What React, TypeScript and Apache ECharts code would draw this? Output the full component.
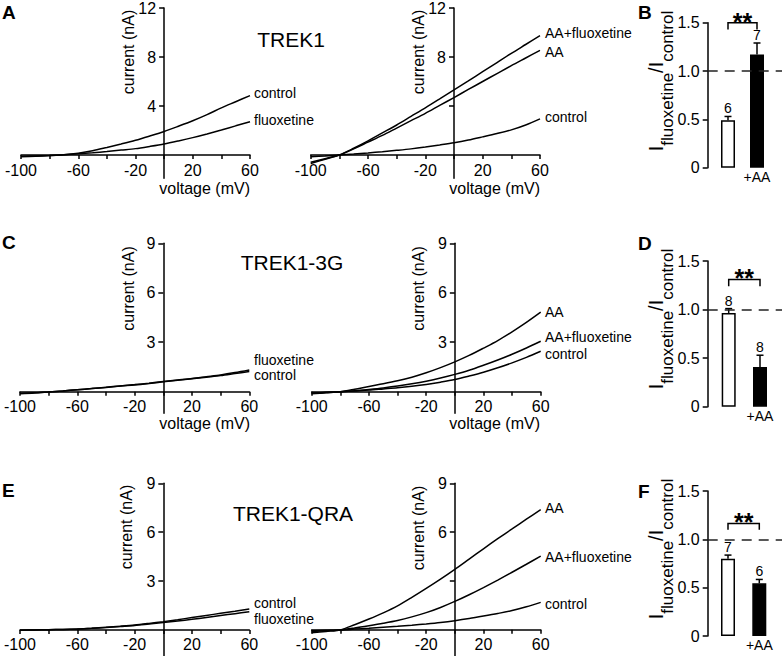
import React, { useEffect, useRef } from "react";
import * as echarts from "echarts";

const FONT = "Liberation Sans, Arial, Helvetica, sans-serif";

// ---------- data ----------
const voltages = [-100, -90, -80, -70, -60, -50, -40, -30, -20, -10, 0, 10, 20, 30, 40, 50, 60];

// TREK1 (A)
const aLeftControl = [-0.15, -0.1, -0.05, 0.02, 0.15, 0.35, 0.62, 0.9, 1.2, 1.55, 1.92, 2.35, 2.8, 3.3, 3.85, 4.35, 4.85];
const aLeftFluox = [-0.1, -0.08, -0.04, 0.02, 0.1, 0.18, 0.28, 0.4, 0.52, 0.7, 0.9, 1.15, 1.42, 1.72, 2.04, 2.38, 2.72];
const aRightAAFluox = [-0.7, -0.35, 0, 0.55, 1.15, 1.8, 2.45, 3.15, 3.85, 4.58, 5.32, 6.05, 6.8, 7.55, 8.3, 9.02, 9.74];
const aRightAA = [-0.6, -0.3, 0, 0.5, 1.05, 1.6, 2.2, 2.8, 3.4, 4.05, 4.69, 5.35, 6.0, 6.65, 7.3, 7.92, 8.54];
const aRightControl = [-0.15, -0.08, 0, 0.08, 0.17, 0.27, 0.38, 0.5, 0.65, 0.82, 1.0, 1.22, 1.48, 1.75, 2.05, 2.45, 2.95];

// TREK1-3G (C)
const cLeftControl = [-0.12, -0.08, -0.02, 0.05, 0.12, 0.19, 0.26, 0.34, 0.41, 0.5, 0.6, 0.69, 0.78, 0.88, 0.98, 1.1, 1.22];
const cLeftFluox = [-0.1, -0.07, -0.01, 0.05, 0.12, 0.19, 0.27, 0.35, 0.43, 0.52, 0.62, 0.71, 0.8, 0.91, 1.02, 1.16, 1.32];
const cRightAA = [-0.12, -0.06, 0, 0.15, 0.32, 0.48, 0.66, 0.88, 1.15, 1.46, 1.81, 2.2, 2.64, 3.1, 3.63, 4.2, 4.82];
const cRightAAFluox = [-0.1, -0.05, 0, 0.06, 0.14, 0.23, 0.34, 0.48, 0.64, 0.83, 1.05, 1.3, 1.6, 1.92, 2.27, 2.65, 3.06];
const cRightControl = [-0.08, -0.04, 0, 0.05, 0.1, 0.17, 0.24, 0.33, 0.44, 0.58, 0.74, 0.95, 1.18, 1.45, 1.75, 2.08, 2.45];

// TREK1-QRA (E)
const eLeftControl = [-0.02, 0, 0.01, 0.03, 0.06, 0.11, 0.17, 0.23, 0.3, 0.4, 0.51, 0.63, 0.76, 0.89, 1.02, 1.15, 1.29];
const eLeftFluox = [-0.02, 0, 0.01, 0.03, 0.06, 0.1, 0.15, 0.21, 0.27, 0.36, 0.45, 0.55, 0.65, 0.76, 0.88, 1.0, 1.12];
const eRightAA = [-0.18, -0.09, 0, 0.32, 0.67, 1.05, 1.48, 2.0, 2.55, 3.12, 3.72, 4.35, 4.98, 5.6, 6.2, 6.8, 7.38];
const eRightAAFluox = [-0.1, -0.05, 0, 0.12, 0.26, 0.41, 0.58, 0.8, 1.06, 1.38, 1.75, 2.16, 2.6, 3.06, 3.54, 4.03, 4.53];
const eRightControl = [-0.05, -0.02, 0, 0.05, 0.1, 0.16, 0.22, 0.29, 0.37, 0.46, 0.57, 0.7, 0.85, 1.01, 1.19, 1.42, 1.69];

// bar panels: I_fluoxetine / I_control (control, +AA)
const barPositions = [1, 2];
const bMeans = [0.49, 1.17];
const bSem = [0.04, 0.12];
const bN = [6, 7];
const dMeans = [0.965, 0.41];
const dSem = [0.045, 0.12];
const dN = [8, 8];
const fMeans = [0.8, 0.545];
const fSem = [0.037, 0.04];
const fN = [7, 6];
// significance brackets: [x1, x2, top, leg end]
const bBracket = [1, 2, 1.5, 1.43];
const dBracket = [1, 2, 1.31, 1.24];
const fBracket = [1, 2, 1.165, 1.1];
const refLine = 1.0;

const xTicks = [-100, -80, -60, -40, -20, 0, 20, 40, 60];
const xTickLabels = [-100, -60, -20, 20, 60];
const yTicksA = [4, 8, 12];
const yTicksCE = [3, 6, 9];
const barYTicks = [0, 0.5, 1.0, 1.5];

// ---------- layout ----------
const ivPanels = [
  { left: 21, top: 8, width: 229, height: 13.9 * 12.25, min: -1.9, max: 12, ticks: yTicksA, labels: [4, 8, 12],
    curves: [aLeftControl, aLeftFluox] },
  { left: 310.7, top: 8, width: 229.3, height: 13.9 * 12.25, min: -1.9, max: 12, ticks: yTicksA, labels: [8, 12],
    curves: [aRightAAFluox, aRightAA, aRightControl] },
  { left: 20, top: 243.3, width: 229.3, height: 10.3 * 16.49, min: -1.3, max: 9, ticks: yTicksCE, labels: [3, 6, 9],
    curves: [cLeftControl, cLeftFluox] },
  { left: 311.7, top: 243.3, width: 229, height: 10.3 * 16.49, min: -1.3, max: 9, ticks: yTicksCE, labels: [3, 6, 9],
    curves: [cRightAA, cRightAAFluox, cRightControl] },
  { left: 20, top: 483.3, width: 229.3, height: 10.6 * 16.3, min: -1.6, max: 9, ticks: yTicksCE, labels: [3, 6, 9],
    curves: [eLeftControl, eLeftFluox] },
  { left: 311.7, top: 483.3, width: 229, height: 10.6 * 16.4, min: -1.6, max: 9, ticks: yTicksCE, labels: [6, 9],
    curves: [eRightAA, eRightAAFluox, eRightControl] },
];

const barPanels = [
  { top: 22.7, height: 145, c1: 728, c2: 757, means: bMeans, sem: bSem, n: bN, bracket: bBracket },
  { top: 261, height: 145.7, c1: 728.7, c2: 760, means: dMeans, sem: dSem, n: dN, bracket: dBracket },
  { top: 491, height: 145, c1: 728, c2: 759.3, means: fMeans, sem: fSem, n: fN, bracket: fBracket },
];
const BAR_AXIS_X = 707.7;
const X_MIN = -100;
const X_MAX = 60;

const BLACK = "#000";

function buildOption() {
  const grid: any[] = [];
  const xAxis: any[] = [];
  const yAxis: any[] = [];
  const series: any[] = [];

  ivPanels.forEach((p, i) => {
    grid.push({ left: p.left, top: p.top, width: p.width, height: p.height });
    // place the axes on the origin of each other (x at current 0, y at voltage 0)
    const xOffset = (p.min / (p.max - p.min)) * p.height;
    const yOffset = -((0 - X_MIN) / (X_MAX - X_MIN)) * p.width;
    xAxis.push({
      type: "value", gridIndex: i, min: X_MIN, max: X_MAX, interval: 20, offset: xOffset,
      axisLine: { onZero: false, lineStyle: { color: BLACK, width: 1.5 } },
      axisTick: { customValues: xTicks, length: 4, lineStyle: { color: BLACK, width: 1.5 } },
      axisLabel: { customValues: xTickLabels, color: BLACK, fontSize: 16, fontFamily: FONT, margin: 7 },
      splitLine: { show: false },
    });
    yAxis.push({
      type: "value", gridIndex: i, min: p.min, max: p.max, offset: yOffset,
      axisLine: { onZero: false, lineStyle: { color: BLACK, width: 1.5 } },
      axisTick: { customValues: p.ticks, length: 5, lineStyle: { color: BLACK, width: 1.5 } },
      axisLabel: { customValues: p.labels, color: BLACK, fontSize: 16, fontFamily: FONT, margin: 8 },
      splitLine: { show: false },
    });
    p.curves.forEach((c) => {
      series.push({
        type: "line", xAxisIndex: i, yAxisIndex: i, showSymbol: false, smooth: 0.3,
        lineStyle: { color: BLACK, width: 1.5 }, silent: true,
        data: voltages.map((v, k) => [v, c[k]]),
      });
    });
  });

  barPanels.forEach((b, j) => {
    const gi = ivPanels.length + j;
    const ppu = b.c2 - b.c1;
    const xmin = barPositions[0] - (b.c1 - BAR_AXIS_X) / ppu;
    const xmax = xmin + (782 - BAR_AXIS_X) / ppu;
    grid.push({ left: BAR_AXIS_X, top: b.top, width: 782 - BAR_AXIS_X, height: b.height });
    xAxis.push({
      type: "value", gridIndex: gi, min: xmin, max: xmax,
      axisLine: { show: false, onZero: false }, axisTick: { show: false }, splitLine: { show: false },
      axisLabel: { customValues: [barPositions[1]], formatter: () => "+AA", color: BLACK, fontSize: 14, fontFamily: FONT, margin: 2 },
    });
    yAxis.push({
      type: "value", gridIndex: gi, min: 0, max: 1.5, interval: 0.5,
      axisLine: { onZero: false, lineStyle: { color: BLACK, width: 1.5 } },
      axisTick: { customValues: barYTicks, length: 5, lineStyle: { color: BLACK, width: 1.5 } },
      axisLabel: { customValues: barYTicks, formatter: (v: number) => (v === 0 ? "0" : v.toFixed(1)), color: BLACK, fontSize: 16, fontFamily: FONT, margin: 8 },
      splitLine: { show: false },
    });
    series.push({
      type: "bar", xAxisIndex: gi, yAxisIndex: gi, barWidth: 14, silent: true,
      data: [
        { value: [barPositions[0], b.means[0]], itemStyle: { color: "#fff", borderColor: BLACK, borderWidth: 1.5 } },
        { value: [barPositions[1], b.means[1]], itemStyle: { color: BLACK, borderColor: BLACK, borderWidth: 1.5 } },
      ],
      markLine: {
        silent: true, symbol: ["none", "none"], label: { show: false },
        lineStyle: { type: [10, 7], color: "#222", width: 1.5 },
        data: [{ yAxis: refLine }],
      },
    });
    series.push({
      type: "custom", xAxisIndex: gi, yAxisIndex: gi, clip: false, silent: true,
      data: barPositions.map((x, k) => [x, b.means[k], b.sem[k], b.n[k]]),
      renderItem: (params: any, api: any) => {
        const x = api.value(0), m = api.value(1), s = api.value(2), n = api.value(3);
        const p0 = api.coord([x, m]);
        const p1 = api.coord([x, m + s]);
        return {
          type: "group",
          children: [
            { type: "line", shape: { x1: p0[0], y1: p0[1], x2: p1[0], y2: p1[1] }, style: { stroke: BLACK, lineWidth: 1.5 } },
            { type: "line", shape: { x1: p1[0] - 3.5, y1: p1[1], x2: p1[0] + 3.5, y2: p1[1] }, style: { stroke: BLACK, lineWidth: 1.5 } },
            { type: "text", x: p1[0], y: p1[1] - 8, style: { text: String(n), fontSize: 14, fontFamily: FONT, fill: BLACK, align: "center", verticalAlign: "middle" } },
          ],
        };
      },
    });
    series.push({
      type: "custom", xAxisIndex: gi, yAxisIndex: gi, clip: false, silent: true,
      data: [b.bracket],
      renderItem: (params: any, api: any) => {
        const x1 = api.value(0), x2 = api.value(1), top = api.value(2), leg = api.value(3);
        const a = api.coord([x1, leg]);
        const bb = api.coord([x1, top]);
        const c = api.coord([x2, top]);
        const d = api.coord([x2, leg]);
        return {
          type: "group",
          children: [
            { type: "polyline", shape: { points: [a, bb, c, d] }, style: { stroke: BLACK, lineWidth: 1.5, fill: "none" } },
            { type: "text", x: (bb[0] + c[0]) / 2, y: bb[1] - 1, style: { text: "**", fontSize: 25, fontWeight: "bold", fontFamily: FONT, fill: BLACK, align: "center", verticalAlign: "middle" } },
          ],
        };
      },
    });
  });

  const txt = (text: string, x: number, y: number, extra: any = {}) => ({
    type: "text", x, y, silent: true,
    rotation: extra.rotation || 0,
    style: { text, fontFamily: FONT, fontSize: 16, fill: BLACK, align: "left", verticalAlign: "middle", ...extra.style },
  });

  const graphic: any[] = [];
  [["A", 2, 12], ["B", 638, 12], ["C", 2, 242.5], ["D", 638, 243.5], ["E", 2, 490], ["F", 638, 491.5]].forEach(
    ([t, x, y]: any) => graphic.push(txt(t, x, y, { style: { fontSize: 19, fontWeight: "bold" } }))
  );
  [["TREK1", 291, 39], ["TREK1-3G", 292, 262], ["TREK1-QRA", 293, 513]].forEach(([t, x, y]: any) =>
    graphic.push(txt(t, x, y, { style: { fontSize: 21, align: "center" } }))
  );
  [[250, 188], [540, 188], [250, 423], [540, 423]].forEach(([x, y]) =>
    graphic.push(txt("voltage (mV)", x, y, { style: { align: "right" } }))
  );
  [[128, 52], [418, 52], [128, 288.5], [418, 288.5], [126, 527], [418, 528]].forEach(([x, y]) =>
    graphic.push(txt("current (nA)", x, y, { rotation: Math.PI / 2, style: { align: "center" } }))
  );
  const curveLabels: any[] = [
    ["control", 254, 93], ["fluoxetine", 254, 120],
    ["AA+fluoxetine", 545, 33], ["AA", 545, 52], ["control", 545, 117],
    ["fluoxetine", 254, 360], ["control", 254, 375],
    ["AA", 545, 311.7], ["AA+fluoxetine", 545, 336.7], ["control", 545, 354],
    ["control", 254, 602.7], ["fluoxetine", 254, 619],
    ["AA", 545, 508], ["AA+fluoxetine", 545, 556.7], ["control", 545, 604],
  ];
  curveLabels.forEach(([t, x, y]) => graphic.push(txt(t, x, y, { style: { fontSize: 14 } })));
  [81, 319, 549].forEach((y) =>
    graphic.push({
      type: "text", x: 661, y, rotation: Math.PI / 2, silent: true,
      style: {
        text: "{m|I}{s|fluoxetine}{m|/I}{s|control}",
        align: "center", verticalAlign: "middle", fill: BLACK, fontFamily: FONT,
        rich: {
          m: { fontSize: 20, lineHeight: 30, verticalAlign: "top", fontFamily: FONT, fill: BLACK },
          s: { fontSize: 17, lineHeight: 17, verticalAlign: "bottom", fontFamily: FONT, fill: BLACK },
        },
      },
    })
  );

  return {
    animation: false,
    backgroundColor: "#fff",
    textStyle: { fontFamily: FONT },
    grid, xAxis, yAxis, series, graphic,
  };
}

export default function App() {
  const ref = useRef<HTMLDivElement>(null);
  useEffect(() => {
    if (!ref.current) return;
    const chart = echarts.init(ref.current, undefined, { renderer: "svg" });
    chart.setOption(buildOption() as any);
    return () => chart.dispose();
  }, []);
  return <div ref={ref} style={{ position: "absolute", left: 0, top: 0, width: 782, height: 656 }} />;
}
